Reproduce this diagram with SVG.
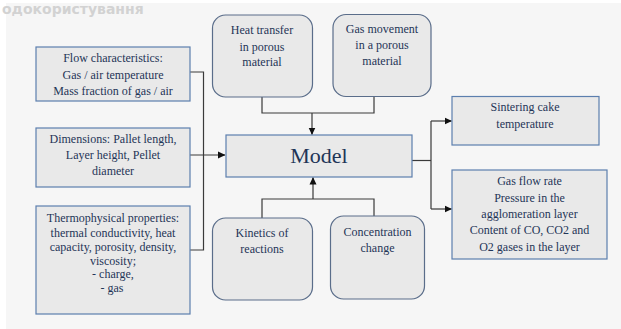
<svg xmlns="http://www.w3.org/2000/svg" width="621" height="329" viewBox="0 0 621 329">
  <defs>
    <marker id="arrow" markerWidth="8" markerHeight="8" refX="7" refY="4" orient="auto" markerUnits="userSpaceOnUse">
      <path d="M0,0.5 L7.5,4 L0,7.5 Z" fill="#111"/>
    </marker>
    <style>
      .box { fill: #e9e9e9; stroke: #5c7fae; stroke-width: 1.2; }
      .rbox { fill: #e9e9e9; stroke: #5a6d8a; stroke-width: 1.2; }
      .t { font-family: "Liberation Serif", "Times New Roman", serif; font-size: 12px; fill: #1f3557; text-anchor: middle; }
      .big { font-size: 22px; }
      .wire { fill: none; stroke: #3a3a3a; stroke-width: 1.2; }
      .mark { font-family: "DejaVu Sans", "Noto Sans", sans-serif; font-size: 14px; font-weight: bold; fill: #d2d2d2; }
    </style>
  </defs>

  <!-- page background -->
  <rect x="0" y="0" width="621" height="329" fill="#ffffff"/>
  <rect x="6" y="3" width="615" height="326" fill="#f6f6f6"/>
  <text class="mark" x="2" y="14">одокористування</text>

  <!-- connectors -->
  <g id="connectors">
    <!-- input bus on the left -->
    <polyline class="wire" points="190,72 203.5,72 203.5,250 190,250"/>
    <line class="wire" x1="190" y1="155" x2="225" y2="155" marker-end="url(#arrow)"/>
    <!-- process links from above -->
    <polyline class="wire" points="262,97 262,113 374,113 374,97"/>
    <line class="wire" x1="312" y1="113" x2="312" y2="134.5" marker-end="url(#arrow)"/>
    <!-- process links from below -->
    <polyline class="wire" points="262,218 262,199 374,199 374,216"/>
    <line class="wire" x1="313" y1="199" x2="313" y2="177.5" marker-end="url(#arrow)"/>
    <!-- outputs on the right -->
    <line class="wire" x1="412" y1="160.5" x2="431" y2="160.5"/>
    <line class="wire" x1="431" y1="121" x2="431" y2="209"/>
    <line class="wire" x1="431" y1="121" x2="451.5" y2="121" marker-end="url(#arrow)"/>
    <line class="wire" x1="431" y1="209" x2="451.5" y2="209" marker-end="url(#arrow)"/>
  </g>

  <g id="flow">
    <rect class="box" x="36" y="47" width="154" height="54"/>
    <text class="t" x="113" y="62">Flow characteristics:</text>
    <text class="t" x="113" y="79">Gas / air temperature</text>
    <text class="t" x="113" y="95">Mass fraction of gas / air</text>
  </g>

  <g id="dimensions">
    <rect class="box" x="36" y="128" width="154" height="59"/>
    <text class="t" x="113" y="142.5">Dimensions: Pallet length,</text>
    <text class="t" x="113" y="158.5">Layer height, Pellet</text>
    <text class="t" x="113" y="175">diameter</text>
  </g>

  <g id="thermo">
    <rect class="box" x="36" y="206" width="154" height="108"/>
    <text class="t" x="113" y="222">Thermophysical properties:</text>
    <text class="t" x="113" y="236.5">thermal conductivity, heat</text>
    <text class="t" x="113" y="250.5">capacity, porosity, density,</text>
    <text class="t" x="113" y="264.5">viscosity;</text>
    <text class="t" x="113" y="278">- charge,</text>
    <text class="t" x="112" y="292">- gas</text>
  </g>

  <g id="heat">
    <rect class="rbox" x="212.5" y="15" width="100" height="82" rx="13"/>
    <text class="t" x="262" y="34">Heat transfer</text>
    <text class="t" x="262" y="50.5">in porous</text>
    <text class="t" x="262" y="66">material</text>
  </g>

  <g id="gas-movement">
    <rect class="rbox" x="333" y="14.5" width="98" height="82" rx="13"/>
    <text class="t" x="382" y="32.5">Gas movement</text>
    <text class="t" x="382" y="49">in a porous</text>
    <text class="t" x="382" y="65">material</text>
  </g>

  <g id="model">
    <rect class="box" x="226" y="135" width="186" height="42"/>
    <text class="t big" x="319" y="163">Model</text>
  </g>

  <g id="kinetics">
    <rect class="rbox" x="212.5" y="218" width="100" height="82" rx="13"/>
    <text class="t" x="262" y="236.5">Kinetics of</text>
    <text class="t" x="262" y="253">reactions</text>
  </g>

  <g id="concentration">
    <rect class="rbox" x="330.5" y="216" width="94" height="83" rx="13"/>
    <text class="t" x="377.5" y="236">Concentration</text>
    <text class="t" x="377.5" y="252">change</text>
  </g>

  <g id="sintering">
    <rect class="box" x="452" y="96.5" width="147" height="48.5"/>
    <text class="t" x="525" y="111">Sintering cake</text>
    <text class="t" x="525" y="127.5">temperature</text>
  </g>

  <g id="gas-flow">
    <rect class="box" x="452" y="170" width="155" height="89"/>
    <text class="t" x="529.5" y="185">Gas flow rate</text>
    <text class="t" x="529.5" y="201.5">Pressure in the</text>
    <text class="t" x="529.5" y="217.5">agglomeration layer</text>
    <text class="t" x="529.5" y="234">Content of CO, CO2 and</text>
    <text class="t" x="529.5" y="250.5">O2 gases in the layer</text>
  </g>
</svg>
